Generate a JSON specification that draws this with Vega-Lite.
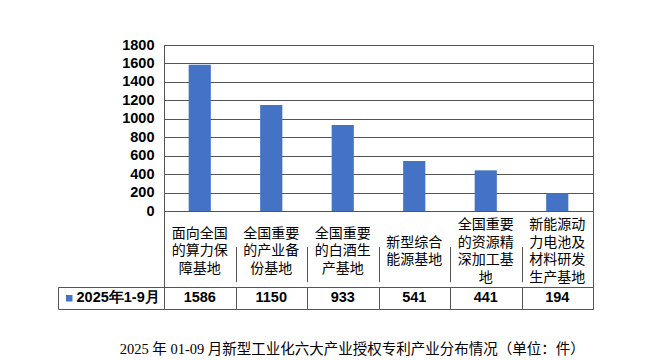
{
  "$schema": "https://vega.github.io/schema/vega-lite/v6.json",
  "padding": {"left": 57, "top": 36, "right": 10, "bottom": 5},
  "background": "white",
  "bounds": "flush",
  "title": {"text": "2025 年 01-09 月新型工业化六大产业授权专利产业分布情况（单位：件）", "orient": "bottom", "anchor": "middle", "font": "Liberation Serif, Noto Sans CJK SC", "fontSize": 14.5, "fontWeight": "normal", "color": "#000000", "offset": 33, "dx": 27},
  "data": {"values": [
    {"cat": "面向全国\n的算力保\n障基地", "value": 1586, "series": "2025年1-9月"},
    {"cat": "全国重要\n的产业备\n份基地", "value": 1150, "series": "2025年1-9月"},
    {"cat": "全国重要\n的白酒生\n产基地", "value": 933, "series": "2025年1-9月"},
    {"cat": "新型综合\n能源基地", "value": 541, "series": "2025年1-9月"},
    {"cat": "全国重要\n的资源精\n深加工基\n地", "value": 441, "series": "2025年1-9月"},
    {"cat": "新能源动\n力电池及\n材料研发\n生产基地", "value": 194, "series": "2025年1-9月"}
  ]},
  "spacing": 0,
  "resolve": {"legend": {"color": "independent"}, "scale": {"color": "independent"}},
  "vconcat": [
    {
      "width": 429, "height": 166,
      "mark": {"type": "bar", "color": "#4472C4", "width": {"band": 0.31}},
      "encoding": {
        "x": {"field": "cat", "type": "nominal", "sort": null, "scale": {"paddingInner": 0, "paddingOuter": 0}, "axis": null},
        "y": {"field": "value", "type": "quantitative", "scale": {"domain": [0, 1800], "nice": false},
          "axis": {"values": [0, 200, 400, 600, 800, 1000, 1200, 1400, 1600, 1800], "format": "d", "title": null, "domain": false, "ticks": false, "labelPadding": 10, "grid": true, "gridColor": "#555555", "labelFont": "Liberation Sans", "labelFontSize": 14.5, "labelFontWeight": "bold", "labelColor": "#000000"}}
      }
    },
    {
      "width": 429, "height": 76,
      "transform": [{"calculate": "length(split(datum.cat, '\\n'))", "as": "lines"}],
      "mark": {"type": "text", "lineBreak": "\n", "font": "Noto Sans CJK SC", "fontSize": 14, "lineHeight": 17.6, "baseline": "middle", "color": "#000000"},
      "encoding": {
        "x": {"field": "cat", "type": "nominal", "sort": null, "scale": {"paddingInner": 0, "paddingOuter": 0},
          "axis": {"labels": false, "ticks": false, "domain": false, "title": null, "grid": true, "tickBand": "extent", "gridColor": "#555555"}},
        "y": {"field": "lines", "type": "quantitative", "scale": {"domain": [1, 5], "range": [40.5, 5.3], "nice": false, "zero": false}, "axis": null},
        "text": {"field": "cat"}
      }
    },
    {
      "width": 429, "height": 22,
      "layer": [
        {
          "mark": {"type": "text", "font": "Liberation Sans", "fontSize": 14.5, "fontWeight": "bold", "baseline": "middle", "color": "#000000"},
          "encoding": {
            "x": {"field": "cat", "type": "nominal", "sort": null, "scale": {"paddingInner": 0, "paddingOuter": 0},
              "axis": {"labels": false, "ticks": false, "domain": false, "title": null, "grid": true, "tickBand": "extent", "gridColor": "#555555"}},
            "text": {"field": "value"}
          }
        },
        {
          "transform": [{"filter": "false"}],
          "mark": {"type": "square"},
          "encoding": {
            "x": {"field": "cat", "type": "nominal", "sort": null},
            "color": {"field": "series", "type": "nominal", "scale": {"domain": ["2025年1-9月"], "range": ["#4472C4"]},
              "legend": {"orient": "left", "offset": 0, "title": null, "symbolType": "square", "symbolSize": 42, "symbolStrokeWidth": 0, "symbolOpacity": 1, "padding": 4, "strokeColor": "#555555", "labelFont": "Liberation Sans", "labelFontSize": 14.5, "labelFontWeight": "bold", "labelColor": "#000000", "labelOffset": 0}}
          }
        }
      ]
    }
  ],
  "config": {"view": {"stroke": "#555555"}}
}
